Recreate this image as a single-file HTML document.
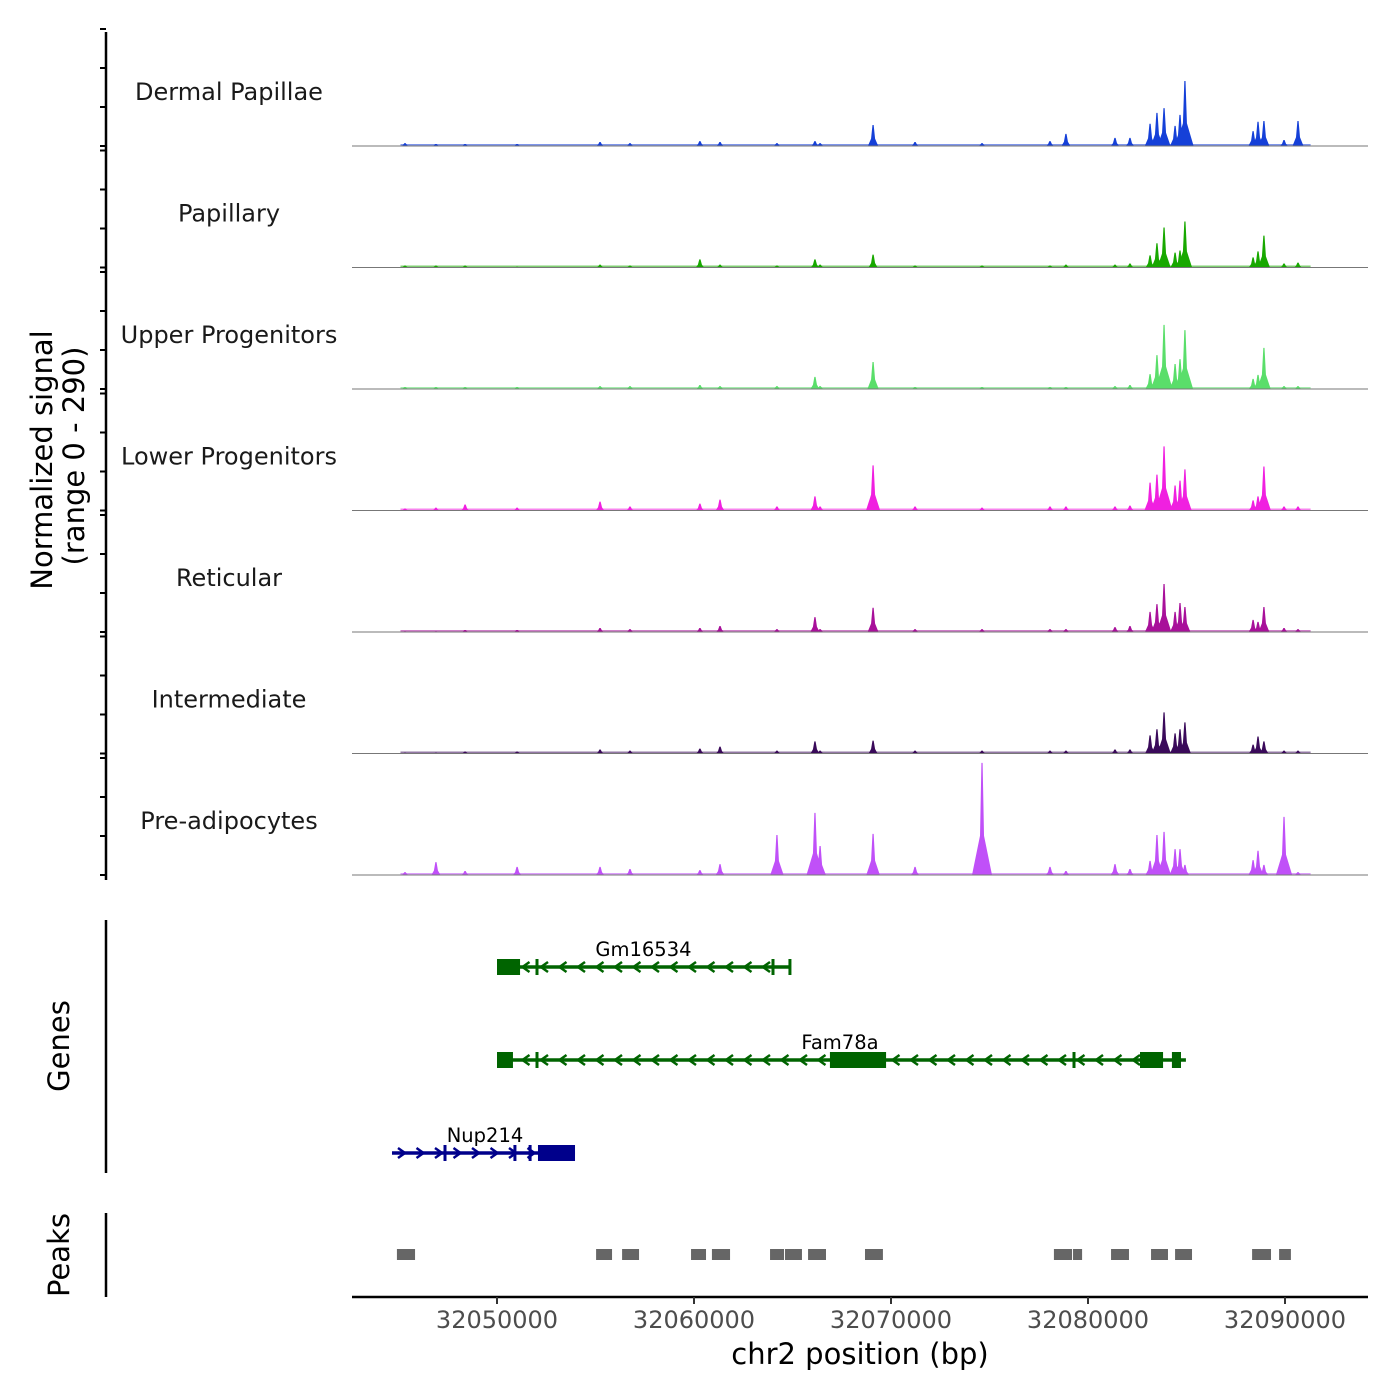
<!DOCTYPE html>
<html><head><meta charset="utf-8"><style>
html,body{margin:0;padding:0;background:#fff;}
svg{display:block;font-family:"DejaVu Sans","Liberation Sans",sans-serif;}
</style></head><body>
<svg id="chart" width="1400" height="1400" viewBox="0 0 1400 1400" xmlns="http://www.w3.org/2000/svg">
<text transform="translate(52,460) rotate(-90)" text-anchor="middle" font-size="29" fill="#000">Normalized signal</text>
<text transform="translate(84,456) rotate(-90)" text-anchor="middle" font-size="29" fill="#000">(range 0 - 290)</text>
<text transform="translate(69,1046) rotate(-90)" text-anchor="middle" font-size="29" fill="#000">Genes</text>
<text transform="translate(69,1255) rotate(-90)" text-anchor="middle" font-size="29" fill="#000">Peaks</text>
<text x="860" y="1364" text-anchor="middle" font-size="29" fill="#000">chr2 position (bp)</text>
<g id="g"></g>
</svg>
<script>
const xTicks = [50, 60, 70, 80, 90];
const xTickLabels = ["32050000","32060000","32070000","32080000","32090000"];
const trackNames = ["Dermal Papillae","Papillary","Upper Progenitors","Lower Progenitors","Reticular","Intermediate","Pre-adipocytes"];
const trackColors = ["#1540d8","#18a800","#5ade6a","#f020e0","#a8109a","#3a0a5a","#c050f8"];
const peakPos = [45.33,46.90,48.38,51.02,55.23,56.75,60.30,61.32,64.21,66.14,66.40,69.09,71.22,74.62,78.07,78.88,81.37,82.13,83.15,83.50,83.86,84.42,84.67,84.92,88.38,88.63,88.93,89.95,90.66];
const dermal = [7,5,5,5,10,7,12,10,7,12,7,52,10,7,12,30,20,20,55,82,94,50,77,161,37,60,62,15,62];
const papillary = [5,5,5,2,7,5,20,7,5,20,7,32,5,5,5,7,7,10,30,60,99,37,42,114,25,40,79,10,12];
const upperProg = [5,5,5,5,7,7,10,7,7,30,7,67,5,5,5,5,7,10,37,84,159,62,74,146,25,35,102,7,7];
const lowerProg = [5,7,15,7,22,10,17,27,10,35,10,112,10,7,10,10,10,12,69,89,159,62,74,102,25,35,109,10,10];
const reticular = [2,2,5,5,10,7,10,15,7,37,7,60,7,7,7,7,12,15,50,69,119,50,72,62,30,25,62,10,7];
const intermediate = [2,2,5,5,10,7,12,17,7,30,7,32,7,7,7,7,10,10,45,60,102,50,60,77,22,42,30,7,7];
const preAdipo = [7,32,10,20,20,15,12,27,99,154,72,102,20,278,20,10,27,15,35,99,107,64,64,25,37,60,25,144,7];
const series = [dermal,papillary,upperProg,lowerProg,reticular,intermediate,preAdipo];
const peakStarts = [44.92,55.03,56.35,59.85,60.91,63.86,64.62,65.79,68.68,78.27,79.24,81.17,83.20,84.42,88.33,89.70];
const peakEnds   = [45.84,55.84,57.21,60.61,61.83,64.57,65.48,66.70,69.59,79.19,79.70,82.08,84.06,85.28,89.29,90.30];
const geneNames = ["Gm16534","Fam78a","Nup214"];
const geneStrand = [-1,-1,1];
const geneStarts = [50.0,50.0,44.67];
const geneEnds = [64.87,84.97,53.96];
const geneExonStarts = [[50.0],[50.0,66.90,82.64,84.26],[52.08]];
const geneExonEnds = [[51.17],[50.81,69.75,83.81,84.72],[53.96]];
const geneTicks = [[52.03,64.01,64.87],[52.03,79.29],[47.36,50.91,51.68]];

const NS = "http://www.w3.org/2000/svg";
const root = document.getElementById("g");
function el(tag, attrs, parent) {
  const e = document.createElementNS(NS, tag);
  for (const k in attrs) e.setAttribute(k, attrs[k]);
  (parent || root).appendChild(e);
  return e;
}
const X0 = 352, X1 = 1368;
function xs(kb) { return 497 + (kb - 50) * 19.7; }
const trackH = 117, maxV = 290;
function ys(v) { return v / maxV * trackH; }

let e;
e = el("line", {x1:106, y1:32, x2:106, y2:880, stroke:"#000", "stroke-width":2.5});


for (let t = 0; t < 7; t++) {
  const base = 146 + t * 121.5;
  for (let k = 0; k < 4; k++) {
    e = el("line", {x1:100, y1:base - k * 39, x2:106, y2:base - k * 39, stroke:"#000", "stroke-width":2});
    
    
  }
  e = el("text", {x:229, y:base - 46, "text-anchor":"middle", "font-size":24, fill:"#1a1a1a"});
  e.textContent = trackNames[t];
  
  
  const g = el("g", {fill:trackColors[t]});
  
  
  const vals = series[t];
  for (let i = 0; i < peakPos.length; i++) {
    const x = xs(peakPos[i]), h = ys(vals[i]);
    const w = Math.min(10, 3.5 + h * 0.08);
    const pts = [[x - w, base], [x - 2, base - h * 0.35], [x - 0.6, base - h], [x + 0.6, base - h], [x + 2, base - h * 0.35], [x + w, base]];
    e = el("polygon", {points: pts.map(p => p.join(",")).join(" ")}, g);
    
    
  }
  e = el("rect", {x:xs(45.1), y:base - 2, width:xs(91.3) - xs(45.1), height:2, fill:trackColors[t], opacity:0.55});
  
  
  e = el("line", {x1:X0, y1:base, x2:X1, y2:base, stroke:"#777", "stroke-width":1});
  
  
}

e = el("line", {x1:106, y1:920, x2:106, y2:1173, stroke:"#000", "stroke-width":2.5});


const geneY = [967, 1060, 1153];
const geneCol = ["#006400", "#006400", "#00008b"];
for (let gi = 0; gi < 3; gi++) {
  const y = geneY[gi], c = geneCol[gi];
  const g = el("g", {stroke:c, fill:c});
  
  
  el("line", {x1:xs(geneStarts[gi]), y1:y, x2:xs(geneEnds[gi]), y2:y, "stroke-width":3.5}, g);
  for (let k = 0; k < geneExonStarts[gi].length; k++) {
    const a = xs(geneExonStarts[gi][k]), b = xs(geneExonEnds[gi][k]);
    e = el("rect", {x:a, y:y - 8, width:b - a, height:16, stroke:"none"}, g);
    
    
  }
  for (const tk of geneTicks[gi]) {
    el("line", {x1:xs(tk), y1:y - 8, x2:xs(tk), y2:y + 8, "stroke-width":3}, g);
  }
  const s = geneStrand[gi];
  for (let x = xs(geneStarts[gi]) + 10; x < xs(geneEnds[gi]) - 8; x += 18.5) {
    let inside = false;
    for (let k = 0; k < geneExonStarts[gi].length; k++) {
      if (x > xs(geneExonStarts[gi][k]) - 4 && x < xs(geneExonEnds[gi][k]) + 4) inside = true;
    }
    if (inside) continue;
    el("polyline", {points:`${x - 4 * s},${y - 5} ${x + 3 * s},${y} ${x - 4 * s},${y + 5}`, fill:"none", "stroke-width":2.5}, g);
  }
  e = el("text", {x:(xs(geneStarts[gi]) + xs(geneEnds[gi])) / 2, y:y - 11, "text-anchor":"middle", "font-size":19.5, fill:"#000", stroke:"none"});
  if (gi === 1) e.setAttribute("x", 840);
  if (gi === 2) e.setAttribute("x", 485);
  e.textContent = geneNames[gi];
  
  
}

e = el("line", {x1:106, y1:1213, x2:106, y2:1297, stroke:"#000", "stroke-width":2.5});


for (let i = 0; i < peakStarts.length; i++) {
  e = el("rect", {x:xs(peakStarts[i]), y:1249, width:xs(peakEnds[i]) - xs(peakStarts[i]), height:11, fill:"#666"});
  
  
}

e = el("line", {x1:X0, y1:1297, x2:X1, y2:1297, stroke:"#000", "stroke-width":2.5});


for (let i = 0; i < xTicks.length; i++) {
  const x = xs(xTicks[i]);
  e = el("line", {x1:x, y1:1297, x2:x, y2:1304, stroke:"#333", "stroke-width":2});
  
  
  e = el("text", {x:x, y:1328, "text-anchor":"middle", "font-size":24, fill:"#4d4d4d"});
  e.textContent = xTickLabels[i];
  
  
}
</script>
</body></html>
